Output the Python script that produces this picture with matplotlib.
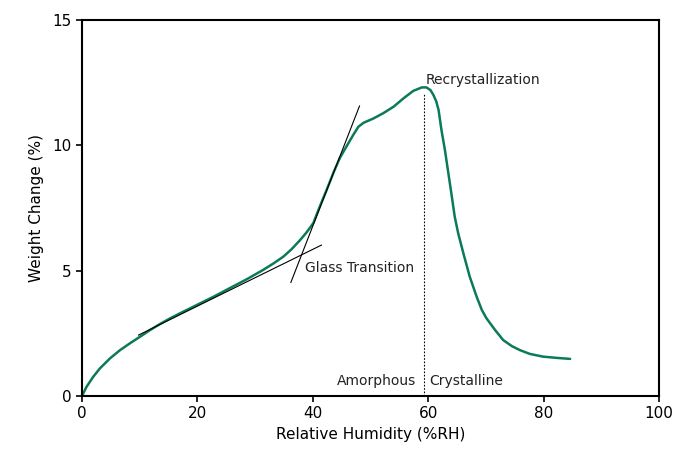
import matplotlib
matplotlib.use("Agg")
import matplotlib.pyplot as plt

# Courbe de sorption
rh = [0, 0.8, 1.96, 3.1, 4.85, 6.6, 8.3, 10.1, 11.8, 13.5, 15.3, 17.0, 19.9,
      22.8, 25.6, 28.5, 31.4, 33.2, 34.9, 36.3, 37.8, 38.9, 40.1, 41.2, 42.4,
      43.6, 44.7, 45.9, 47.0, 47.9, 48.8, 50.5, 52.2, 54.0, 55.7, 57.4, 58.9,
      59.7, 60.4, 60.9, 61.4, 61.8, 62.3, 62.9, 63.5, 64.1, 64.6, 65.2, 66.1,
      67.2, 68.4, 69.3, 70.1, 71.6, 73.0, 74.5, 75.9, 77.6, 79.9, 82.3, 84.6]
weight = [0, 0.37, 0.77, 1.10, 1.50, 1.83, 2.10, 2.37, 2.63, 2.87, 3.10, 3.30, 3.63,
          3.96, 4.30, 4.65, 5.03, 5.29, 5.56, 5.85, 6.22, 6.52, 6.90, 7.55, 8.22,
          8.92, 9.50, 9.98, 10.41, 10.74, 10.90, 11.07, 11.28, 11.54, 11.87, 12.17, 12.31,
          12.31, 12.20, 12.01, 11.75, 11.41, 10.61, 9.81, 8.88, 7.95, 7.15, 6.49, 5.69,
          4.76, 3.96, 3.43, 3.10, 2.63, 2.23, 1.99, 1.83, 1.68, 1.57, 1.52, 1.48]

# Tangentes (transition vitreuse)
tan1_x = [9.8, 41.5]
tan1_y = [2.43, 6.02]
tan2_x = [36.2, 48.1]
tan2_y = [4.53, 11.57]

# Recristallisation
recryst_x = 59.2
recryst_top = 12.1

fig = plt.figure(figsize=(6.73, 4.5), dpi=100)
ax = fig.add_axes([0.1218, 0.12, 0.8574, 0.8356])

ax.plot(rh, weight, color='#0b7a5a', linewidth=1.8, solid_joinstyle='round', solid_capstyle='round')
ax.plot(tan1_x, tan1_y, color='black', linewidth=0.8)
ax.plot(tan2_x, tan2_y, color='black', linewidth=0.8)
ax.plot([recryst_x, recryst_x], [0, recryst_top], color='black', linewidth=0.8, linestyle=(0, (1.5, 1.5)))

fs = 10
ax.text(59.6, 12.6, "Recrystallization", fontsize=fs, va='center', ha='left', color='#222222')
ax.text(38.6, 5.1, "Glass Transition", fontsize=fs, va='center', ha='left', color='#222222')
ax.text(57.9, 0.6, "Amorphous", fontsize=fs, va='center', ha='right', color='#222222')
ax.text(60.2, 0.6, "Crystalline", fontsize=fs, va='center', ha='left', color='#222222')

ax.set_xlim(0, 100)
ax.set_ylim(0, 15)
ax.set_xticks([0, 20, 40, 60, 80, 100])
ax.set_yticks([0, 5, 10, 15])
ax.tick_params(direction='out', length=4, width=1.2, labelsize=11, colors='black')
for s in ax.spines.values():
    s.set_linewidth(1.5)

ax.set_xlabel("Relative Humidity (%RH)", fontsize=11, labelpad=4)
ax.set_ylabel("Weight Change (%)", fontsize=11, labelpad=6)

plt.savefig("out.png", dpi=100)
